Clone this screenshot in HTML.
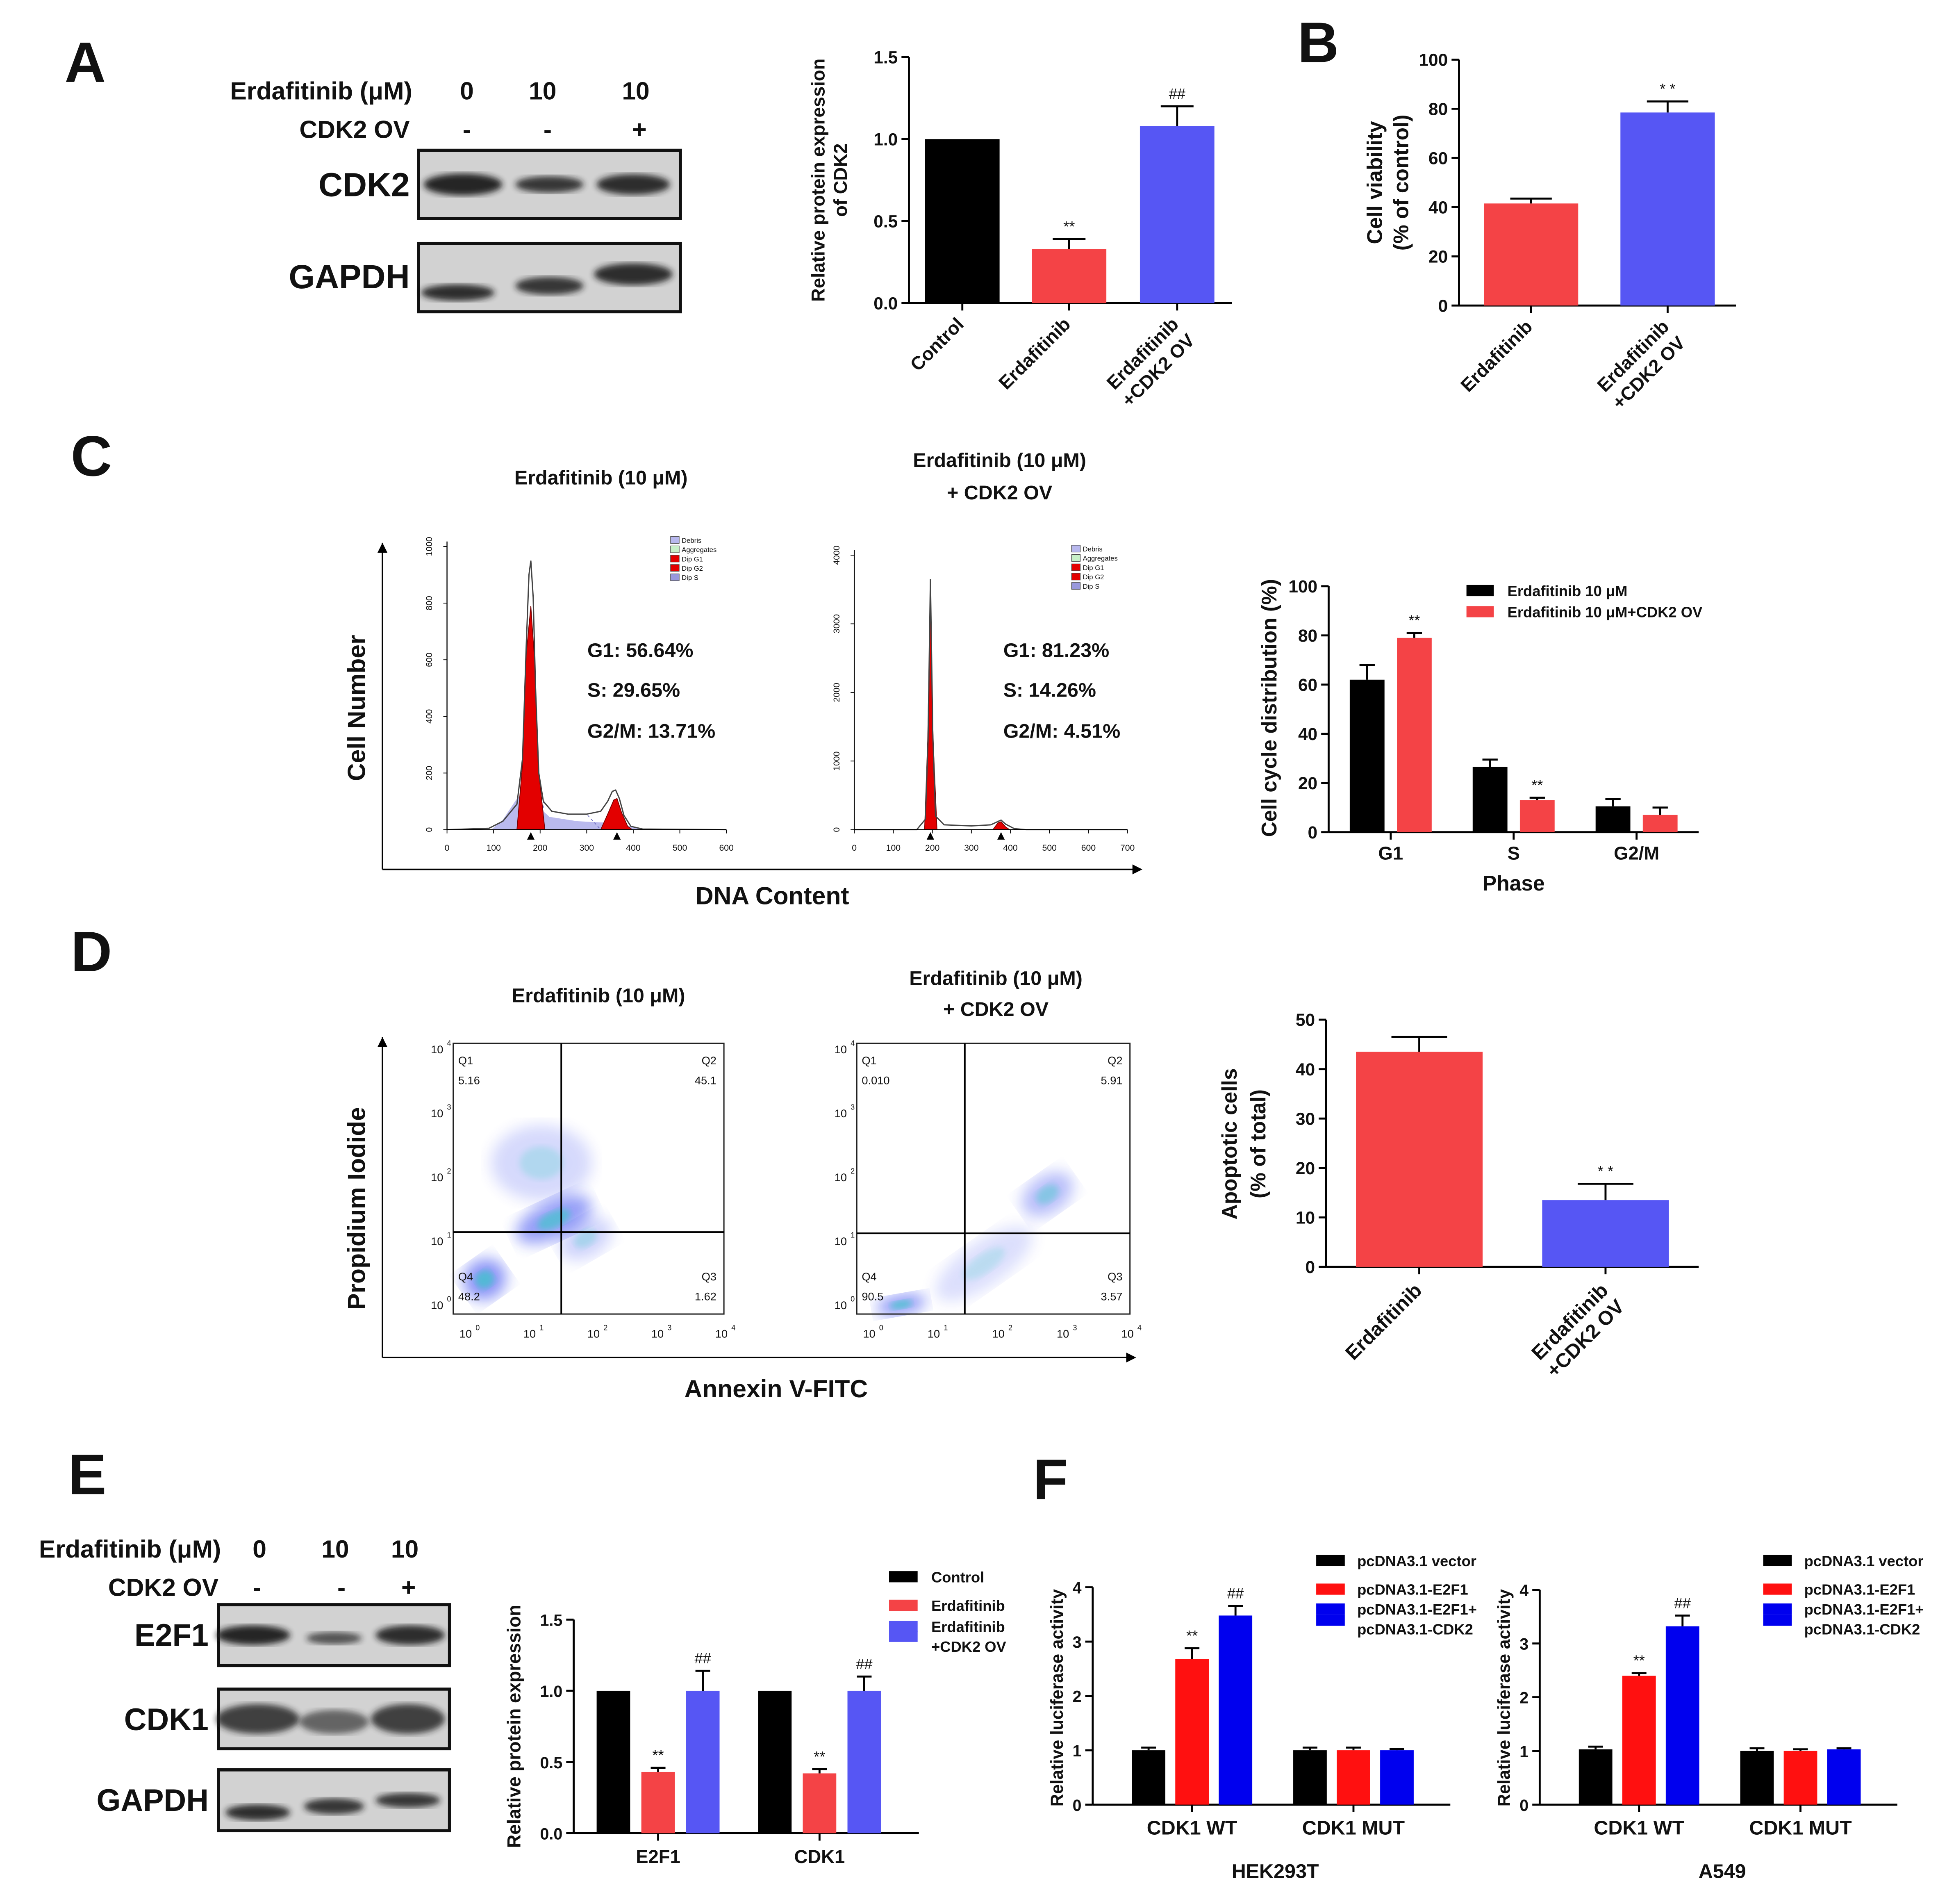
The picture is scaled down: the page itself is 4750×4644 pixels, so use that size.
<!DOCTYPE html>
<html><head><meta charset="utf-8"><style>
html,body{margin:0;padding:0;background:#fff}
svg{display:block}
text{font-family:"Liberation Sans",Arial,sans-serif;fill:#111}
.b{font-weight:bold}
</style></head><body>
<svg id="fig" xmlns="http://www.w3.org/2000/svg" width="4750" height="4644" viewBox="0 0 1568 1533">
<defs>
<filter id="blur2"><feGaussianBlur stdDeviation="2.5"/></filter>
<filter id="blur5"><feGaussianBlur stdDeviation="6"/></filter>
</defs>
<g id="root"></g>
</svg>
<script>
// ---------- DATA ----------
const aCats=["Control","Erdafitinib","Erdafitinib\n+CDK2 OV"];
const aVals=[1.0,0.33,1.08];
const aErr=[0,0.06,0.12];
const aMarks=["","**","##"];
const aTicks=[0,0.5,1.0,1.5];

const bCats=["Erdafitinib","Erdafitinib\n+CDK2 OV"];
const bVals=[41.5,78.5];
const bErr=[2,4.5];
const bTicks=[0,20,40,60,80,100];

const cPhases=["G1","S","G2/M"];
const cBlack=[62,26.5,10.5];
const cBlackErr=[6,3,3];
const cRed=[79,13,7];
const cRedErr=[2,1,3];
const cTicks=[0,20,40,60,80,100];

const dCats=["Erdafitinib","Erdafitinib\n+CDK2 OV"];
const dVals=[43.5,13.5];
const dErr=[3,3.3];
const dTicks=[0,10,20,30,40,50];

const eGroups=["E2F1","CDK1"];
const eCtrl=[1,1];
const eErd=[0.43,0.42];
const eErdErr=[0.03,0.03];
const eOv=[1.0,1.0];
const eOvErr=[0.14,0.1];
const eTicks=[0,0.5,1.0,1.5];

const fGroups=["CDK1 WT","CDK1 MUT"];
const fHekVec=[1.0,1.0];
const fHekE2f1=[2.68,1.0];
const fHekCdk2=[3.48,1.0];
const fHekErr=[[0.05,0.2,0.18],[0.05,0.05,0.02]];
const fA549Vec=[1.03,1.0];
const fA549E2f1=[2.4,1.0];
const fA549Cdk2=[3.32,1.03];
const fA549Err=[[0.05,0.05,0.2],[0.05,0.03,0.02]];
const fTicks=[0,1,2,3,4];

// histogram profiles [channel, count]
const h1Outline=[[0,0],[90,5],[120,30],[150,90],[162,250],[170,650],[176,900],[180,950],[185,820],[190,500],[197,200],[207,100],[225,65],[260,55],[300,55],[330,65],[345,100],[355,135],[362,140],[370,110],[380,50],[395,12],[420,2],[600,0]];
const h1G1=[[150,0],[162,230],[170,620],[180,790],[188,600],[196,220],[210,0]];
const h1G2=[[330,0],[345,55],[358,105],[365,110],[375,60],[388,12],[398,0]];
const h1Debris=[[95,0],[120,35],[150,110],[170,140],[190,90],[220,45],[280,30],[340,25],[400,10],[430,0]];
const h2Outline=[[0,0],[160,0],[182,150],[189,1300],[195,3650],[201,1400],[208,200],[230,70],[300,55],[350,70],[368,120],[376,140],[388,80],[410,15],[440,0],[700,0]];
const h2G1=[[180,0],[188,1300],[195,3500],[202,1300],[212,0]];
const h2G2=[[355,0],[368,100],[376,115],[388,40],[398,0]];

// flow scatter clusters: [log x, log y, spread x, spread y, rot, density]
const s1Clusters=[[0.5,0.55,0.35,0.32,-35,1],[1.6,1.5,0.65,0.3,-25,0.9],[1.4,2.4,0.8,0.6,0,0.35],[2.1,1.2,0.45,0.3,-30,0.4]];
const s2Clusters=[[0.7,0.15,0.4,0.15,-10,1],[2.0,0.8,0.9,0.35,-35,0.3],[3.0,1.9,0.45,0.3,-35,0.6]];

// ---------- HELPERS ----------
const NS="http://www.w3.org/2000/svg";
const root=document.getElementById('root');
function el(tag,attrs,parent,txt){const e=document.createElementNS(NS,tag);for(const k in attrs)e.setAttribute(k,attrs[k]);if(txt!==undefined)e.textContent=txt;(parent||root).appendChild(e);return e;}
function txt(x,y,s,size,opts,parent){opts=opts||{};const a={x:x,y:y,'font-size':size,'text-anchor':opts.anchor||'start'};if(opts.bold)a['font-weight']='bold';if(opts.rot!==undefined)a.transform=`rotate(${opts.rot} ${x} ${y})`;if(opts.fill)a.fill=opts.fill;const t=el('text',a,parent,s);return t;}
function line(x1,y1,x2,y2,w,parent,name){const l=el('line',{x1,y1,x2,y2,stroke:'#000','stroke-width':w||1.5},parent);return l;}
function yScale(y0,y1,max){return v=>y0-(y0-y1)*v/max;}
function yAxis(x,ys,ticks,fmt,g,size){line(x,ys(0),x,ys(ticks[ticks.length-1]),1.6,g,'y-axis');ticks.forEach(t=>{line(x-6,ys(t),x,ys(t),1.6,g,'y-tick');txt(x-9,ys(t)+5,fmt(t),size||14,{anchor:'end',bold:true,name:'y-tick-label'},g);});}
function bar(cx,w,v,err,ys,color,g,name,mark){const r=el('rect',{x:cx-w/2,y:ys(v),width:w,height:ys(0)-ys(v),fill:color},g);
 if(err>0){line(cx,ys(v),cx,ys(v+err),1.6,g,'error-bar');line(cx-w*0.22,ys(v+err),cx+w*0.22,ys(v+err),1.6,g,'error-cap');}
 if(mark){txt(cx,ys(v+err)-6,mark,12,{anchor:'middle',name:'significance-mark'},g);}}
function group(name){const g=el('g',{},root);return g;}
function rotLabel(x,y,s,size,g){const parts=s.split("\n");parts.forEach((p,i)=>{txt(x+i*13,y+i*13,p,size,{anchor:'end',bold:true,rot:-45,name:'x-tick-label'},g);});}

const RED="#f44346",BLUE="#5656f4",FRED="#ff1010",FBLUE="#0000ee";

// ---------- PANEL LETTERS ----------
[["A",52,66],["B",1045,50],["C",57,383],["D",57,782],["E",55,1203],["F",832,1207]].forEach(p=>txt(p[1],p[2],p[0],46,{bold:true,name:'panel-letter-'+p[0].toLowerCase()}));

// ---------- BLOTS ----------
function blot(g,x,y,w,h,bands,name){const r=el('rect',{x,y,width:w,height:h,fill:'#d2d2d2',stroke:'#111','stroke-width':2.5},g);
 bands.forEach(b=>{const e=el('ellipse',{cx:x+b[0]*w,cy:y+b[1]*h,rx:b[2]*w,ry:b[3]*h,fill:'#1a1a1a',opacity:b[4],filter:'url(#blur2)'},g);});}
let gA=group('panel-a-blot');
txt(332,80,"Erdafitinib (μM)",20,{anchor:'end',bold:true,name:'treatment-label'},gA);
["0","10","10"].forEach((s,i)=>txt([376,437,512][i],80,s,20,{anchor:'middle',bold:true,name:'dose-label'},gA));
txt(330,111,"CDK2 OV",20,{anchor:'end',bold:true,name:'ov-label'},gA);
["-","-","+"].forEach((s,i)=>txt([376,441,515][i],111,s,20,{anchor:'middle',bold:true,name:'ov-sign'},gA));
txt(330,158,"CDK2",27,{anchor:'end',bold:true,name:'cdk2-label'},gA);
txt(330,232,"GAPDH",27,{anchor:'end',bold:true,name:'gapdh-label'},gA);
blot(gA,337,121,211,55,[[0.17,0.5,0.15,0.16,0.95],[0.5,0.5,0.13,0.12,0.85],[0.82,0.5,0.14,0.15,0.9]],'cdk2-blot');
blot(gA,337,196,211,55,[[0.15,0.72,0.14,0.12,0.9],[0.5,0.62,0.13,0.13,0.85],[0.82,0.45,0.15,0.16,0.9]],'gapdh-blot');

let gE=group('panel-e-blot');
txt(178,1254,"Erdafitinib (μM)",20,{anchor:'end',bold:true,name:'treatment-label'},gE);
["0","10","10"].forEach((s,i)=>txt([209,270,326][i],1254,s,20,{anchor:'middle',bold:true,name:'dose-label'},gE));
txt(176,1285,"CDK2 OV",20,{anchor:'end',bold:true,name:'ov-label'},gE);
["-","-","+"].forEach((s,i)=>txt([207,275,329][i],1285,s,20,{anchor:'middle',bold:true,name:'ov-sign'},gE));
txt(168,1325,"E2F1",25,{anchor:'end',bold:true,name:'e2f1-label'},gE);
txt(168,1393,"CDK1",25,{anchor:'end',bold:true,name:'cdk1-label'},gE);
txt(168,1458,"GAPDH",25,{anchor:'end',bold:true,name:'gapdh-label'},gE);
blot(gE,176,1292,186,49,[[0.15,0.5,0.16,0.16,0.95],[0.5,0.55,0.12,0.1,0.7],[0.83,0.5,0.15,0.16,0.9]],'e2f1-blot');
blot(gE,176,1360,186,48,[[0.17,0.5,0.18,0.25,0.8],[0.5,0.55,0.15,0.2,0.6],[0.82,0.5,0.16,0.25,0.8]],'cdk1-blot');
blot(gE,176,1425,186,49,[[0.17,0.7,0.14,0.13,0.9],[0.5,0.6,0.13,0.13,0.85],[0.82,0.5,0.14,0.12,0.85]],'gapdh-blot');

// ---------- PANEL A CHART ----------
let gAc=group('panel-a-chart');
let ysA=yScale(244,46,1.5);
yAxis(732,ysA,aTicks,t=>t.toFixed(1),gAc);
line(732,244,992,244,1.6,gAc,'x-axis');
const aCenters=[775,861,948];
aVals.forEach((v,i)=>{bar(aCenters[i],60,v,aErr[i],ysA,["#000",RED,BLUE][i],gAc,'bar-'+i,aMarks[i]);line(aCenters[i],244,aCenters[i],250,1.6,gAc,'x-tick');rotLabel(aCenters[i]+2,262,aCats[i],15,gAc);});
txt(664,145,"Relative protein expression",15,{anchor:'middle',bold:true,rot:-90,name:'y-axis-title'},gAc);
txt(682,145,"of CDK2",15,{anchor:'middle',bold:true,rot:-90,name:'y-axis-title'},gAc);

// ---------- PANEL B ----------
let gB=group('panel-b-chart');
let ysB=yScale(246,48,100);
yAxis(1175,ysB,bTicks,t=>t,gB);
line(1175,246,1398,246,1.6,gB,'x-axis');
const bCenters=[1233,1343];
bVals.forEach((v,i)=>{bar(bCenters[i],76,v,bErr[i],ysB,[RED,BLUE][i],gB,'bar-'+i,i==1?"* *":"");line(bCenters[i],246,bCenters[i],252,1.6,gB,'x-tick');rotLabel(bCenters[i]+2,264,bCats[i],15,gB);});
txt(1113,147,"Cell viability",17,{anchor:'middle',bold:true,rot:-90,name:'y-axis-title'},gB);
txt(1134,147,"(% of control)",17,{anchor:'middle',bold:true,rot:-90,name:'y-axis-title'},gB);

// ---------- PANEL C HISTOGRAMS ----------
let gC=group('panel-c-histograms');
txt(484,390,"Erdafitinib (10 μM)",16,{anchor:'middle',bold:true,name:'histogram-title'},gC);
txt(805,376,"Erdafitinib (10 μM)",16,{anchor:'middle',bold:true,name:'histogram-title'},gC);
txt(805,402,"+ CDK2 OV",16,{anchor:'middle',bold:true,name:'histogram-title'},gC);
line(308,437,308,700,1.2,gC,'frame-y');line(308,700,915,700,1.2,gC,'frame-x');
el('path',{d:'M304,445 L308,437 L312,445Z',fill:'#000'},gC);el('path',{d:'M912,696 L920,700 L912,704Z',fill:'#000'},gC);
txt(294,570,"Cell Number",20,{anchor:'middle',bold:true,rot:-90,name:'y-axis-title'},gC);
txt(622,728,"DNA Content",20,{anchor:'middle',bold:true,name:'x-axis-title'},gC);
function hist(x0,x1,xmax,y0,y1,ymax,xt,yt,outline,g1,g2,deb,name){
 const g=group(name);const xs=c=>x0+(x1-x0)*c/xmax,ys=c=>y0-(y0-y1)*c/ymax;
 const pth=(pts)=>'M'+pts.map(p=>xs(p[0]).toFixed(1)+','+ys(p[1]).toFixed(1)).join(' L');
 if(deb){const d=el('path',{d:pth(deb)+'Z',fill:'#a9a9e8',opacity:0.8},g);
  const s=el('path',{d:pth(outline.filter(p=>p[0]>200&&p[0]<330).concat([[330,0],[205,0]]))+'Z',fill:'none',stroke:'#6b6bc0','stroke-width':0.6,'stroke-dasharray':'2 2'},g);}
 [g1,g2].forEach((pp,i)=>{const r=el('path',{d:pth(pp)+'Z',fill:'#e30000',stroke:'#700','stroke-width':0.6},g);});
 const o=el('path',{d:pth(outline),fill:'none',stroke:'#444','stroke-width':1},g);
 line(x0,y0,x0,y1-4,0.8,g,'hist-y-axis');line(x0,y0,x1,y0,0.8,g,'hist-x-axis');
 xt.forEach(t=>{line(xs(t),y0,xs(t),y0+3,0.6,g,'tick');txt(xs(t),y0+17,String(t),7,{anchor:'middle',name:'x-tick-label'},g);});
 yt.forEach(t=>{line(x0-3,ys(t),x0,ys(t),0.6,g,'tick');txt(x0-12,ys(t),String(t),7,{anchor:'middle',rot:-90,name:'y-tick-label'},g);});
 [g1,g2].forEach(pp=>{const c=pp.reduce((a,b)=>b[1]>a[1]?b:a)[0];el('path',{d:`M${xs(c)-3},${y0+8} L${xs(c)},${y0+2} L${xs(c)+3},${y0+8}Z`,fill:'#000'},g);});
 const lg=[["Debris","#b8b8ee"],["Aggregates","#c8f0c8"],["Dip G1","#e30000"],["Dip G2","#e30000"],["Dip S","#9999dd"]];
 lg.forEach((l,i)=>{el('rect',{x:x1-45,y:y1-8+i*7.5,width:7,height:5.5,fill:l[1],stroke:'#444','stroke-width':0.4},g);txt(x1-36,y1-3+i*7.5,l[0],5.5,{fill:'#2a2ad0',name:'legend-entry'},g);});
 return g;}
hist(360,585,600,668,440,1000,[0,100,200,300,400,500,600],[0,200,400,600,800,1000],h1Outline,h1G1,h1G2,h1Debris,'histogram-erdafitinib');
hist(688,908,700,668,447,4000,[0,100,200,300,400,500,600,700],[0,1000,2000,3000,4000],h2Outline,h2G1,h2G2,null,'histogram-erdafitinib-cdk2ov');
[["G1: 56.64%",523],["S: 29.65%",555],["G2/M: 13.71%",588]].forEach(s=>txt(473,s[1]+6,s[0],16,{bold:true,name:'phase-percent'},gC));
[["G1: 81.23%",523],["S: 14.26%",555],["G2/M: 4.51%",588]].forEach(s=>txt(808,s[1]+6,s[0],16,{bold:true,name:'phase-percent'},gC));

// ---------- PANEL C CHART ----------
let gCc=group('panel-c-chart');
let ysC=yScale(670,472,100);
yAxis(1070,ysC,cTicks,t=>t,gCc);
line(1070,670,1368,670,1.6,gCc,'x-axis');
const cCenters=[1120,1219,1318];
cPhases.forEach((p,i)=>{bar(cCenters[i]-19,28,cBlack[i],cBlackErr[i],ysC,"#000",gCc,'bar-black-'+p);bar(cCenters[i]+19,28,cRed[i],cRedErr[i],ysC,RED,gCc,'bar-red-'+p,i<2?"**":"");line(cCenters[i],670,cCenters[i],676,1.6,gCc,'x-tick');txt(cCenters[i],692,p,15,{anchor:'middle',bold:true,name:'x-tick-label'},gCc);});
txt(1219,717,"Phase",17,{anchor:'middle',bold:true,name:'x-axis-title'},gCc);
txt(1028,570,"Cell cycle distribution (%)",17,{anchor:'middle',bold:true,rot:-90,name:'y-axis-title'},gCc);
[["Erdafitinib 10 μM","#000",476],["Erdafitinib 10 μM+CDK2 OV",RED,493]].forEach(l=>{el('rect',{x:1181,y:l[2]-5,width:22,height:9,fill:l[1]},gCc);txt(1214,l[2]+4,l[0],12,{bold:true,name:'legend-entry'},gCc);});

// ---------- PANEL D SCATTER ----------
let gD=group('panel-d-scatter');
txt(482,807,"Erdafitinib (10 μM)",16,{anchor:'middle',bold:true,name:'scatter-title'},gD);
txt(802,793,"Erdafitinib (10 μM)",16,{anchor:'middle',bold:true,name:'scatter-title'},gD);
txt(802,818,"+ CDK2 OV",16,{anchor:'middle',bold:true,name:'scatter-title'},gD);
line(308,835,308,1093,1.2,gD,'frame-y');line(308,1093,910,1093,1.2,gD,'frame-x');
el('path',{d:'M304,843 L308,835 L312,843Z',fill:'#000'},gD);el('path',{d:'M907,1089 L915,1093 L907,1097Z',fill:'#000'},gD);
txt(294,973,"Propidium Iodide",20,{anchor:'middle',bold:true,rot:-90,name:'y-axis-title'},gD);
txt(625,1125,"Annexin V-FITC",20,{anchor:'middle',bold:true,name:'x-axis-title'},gD);
function scatter(x0,y0,w,h,qx,qy,clusters,q,name){
 const g=group(name);
 const xs=v=>x0+w*v/4.3,ys=v=>y0+h-h*v/4.3;
 clusters.forEach(c=>{const e=el('ellipse',{cx:xs(c[0]),cy:ys(c[1]),rx:w*c[2]/4.3,ry:h*c[3]/4.3,fill:'#2b3cf0',opacity:0.55*c[5],filter:'url(#blur5)',transform:`rotate(${c[4]} ${xs(c[0])} ${ys(c[1])})`},g);
  const e2=el('ellipse',{cx:xs(c[0]),cy:ys(c[1]),rx:w*c[2]/10,ry:h*c[3]/10,fill:'#2fd0c0',opacity:0.6*c[5],filter:'url(#blur2)',transform:`rotate(${c[4]} ${xs(c[0])} ${ys(c[1])})`},g);});
 const r=el('rect',{x:x0,y:y0,width:w,height:h,fill:'none',stroke:'#222','stroke-width':1},g);
 line(qx,y0,qx,y0+h,1.3,g,'quadrant-line');line(x0,qy,x0+w,qy,1.3,g,'quadrant-line');
 txt(x0+4,y0+17,"Q1",9,{name:'quadrant-label'},g);txt(x0+4,y0+33,q[0],9,{name:'quadrant-value'},g);
 txt(x0+w-6,y0+17,"Q2",9,{anchor:'end',name:'quadrant-label'},g);txt(x0+w-6,y0+33,q[1],9,{anchor:'end',name:'quadrant-value'},g);
 txt(x0+4,y0+h-27,"Q4",9,{name:'quadrant-label'},g);txt(x0+4,y0+h-11,q[3],9,{name:'quadrant-value'},g);
 txt(x0+w-6,y0+h-27,"Q3",9,{anchor:'end',name:'quadrant-label'},g);txt(x0+w-6,y0+h-11,q[2],9,{anchor:'end',name:'quadrant-value'},g);
 [0,1,2,3,4].forEach(k=>{const px=x0+10+k*(w-12)/4;txt(px,y0+h+19,"10",9,{anchor:'middle',name:'x-tick-label'},g);txt(px+8,y0+h+13,String(k),6,{name:'x-tick-exp'},g);
  const py=y0+h-4-k*(h-12)/4;txt(x0-13,py,"10",9,{anchor:'middle',name:'y-tick-label'},g);txt(x0-5,py-6,String(k),6,{name:'y-tick-exp'},g);});
}
scatter(365,840,218,218,452,992,s1Clusters,["5.16","45.1","1.62","48.2"],'scatter-erdafitinib');
scatter(690,840,220,218,777,993,s2Clusters,["0.010","5.91","3.57","90.5"],'scatter-erdafitinib-cdk2ov');

// ---------- PANEL D CHART ----------
let gDc=group('panel-d-chart');
let ysD=yScale(1020,821,50);
yAxis(1068,ysD,dTicks,t=>t,gDc);
line(1068,1020,1368,1020,1.6,gDc,'x-axis');
const dCenters=[1143,1293];
dVals.forEach((v,i)=>{bar(dCenters[i],102,v,dErr[i],ysD,[RED,BLUE][i],gDc,'bar-'+i,i==1?"* *":"");line(dCenters[i],1020,dCenters[i],1026,1.6,gDc,'x-tick');rotLabel(dCenters[i]+3,1040,dCats[i],16,gDc);});
txt(996,921,"Apoptotic cells",17,{anchor:'middle',bold:true,rot:-90,name:'y-axis-title'},gDc);
txt(1019,921,"(% of total)",17,{anchor:'middle',bold:true,rot:-90,name:'y-axis-title'},gDc);

// ---------- PANEL E CHART ----------
let gEc=group('panel-e-chart');
let ysE=yScale(1476,1304,1.5);
yAxis(462,ysE,eTicks,t=>t.toFixed(1),gEc,13);
line(462,1476,740,1476,1.6,gEc,'x-axis');
const eCenters=[530,660];
eGroups.forEach((gname,i)=>{const c=eCenters[i];bar(c-36,27,eCtrl[i],0,ysE,"#000",gEc,'bar-control-'+gname);bar(c,27,eErd[i],eErdErr[i],ysE,RED,gEc,'bar-erdafitinib-'+gname,"**");bar(c+36,27,eOv[i],eOvErr[i],ysE,BLUE,gEc,'bar-ov-'+gname,"##");line(c,1476,c,1482,1.6,gEc,'x-tick');txt(c,1500,gname,15,{anchor:'middle',bold:true,name:'x-tick-label'},gEc);});
txt(419,1390,"Relative protein expression",15,{anchor:'middle',bold:true,rot:-90,name:'y-axis-title'},gEc);
[["Control","#000",1270],["Erdafitinib",RED,1293],["Erdafitinib",BLUE,1310]].forEach(l=>{el('rect',{x:716,y:l[2]-5,width:23,height:9,fill:l[1]},gEc);txt(750,l[2]+4,l[0],12,{bold:true,name:'legend-entry'},gEc);});
el('rect',{x:716,y:1313,width:23,height:9,fill:BLUE},gEc);
txt(750,1330,"+CDK2 OV",12,{bold:true,name:'legend-entry'},gEc);

// ---------- PANEL F CHARTS ----------
function fChart(x0,x1,yTop,vec,e2,c2,err,title,name){
 const g=group(name);const ys=yScale(1453,yTop,4);
 yAxis(x0,ys,fTicks,t=>t,g,13);line(x0,1453,x1,1453,1.6,g,'x-axis');
 const centers=[x0+80,x0+210];
 fGroups.forEach((gn,i)=>{const c=centers[i];bar(c-35,27,vec[i],err[i][0],ys,"#000",g,'bar-vector-'+gn);bar(c,27,e2[i],err[i][1],ys,FRED,g,'bar-e2f1-'+gn,i==0?"**":"");bar(c+35,27,c2[i],err[i][2],ys,FBLUE,g,'bar-cdk2-'+gn,i==0?"##":"");line(c,1453,c,1459,1.6,g,'x-tick');txt(c,1477,gn,16,{anchor:'middle',bold:true,name:'x-tick-label'},g);});
 txt(x0+147,1512,title,16,{anchor:'middle',bold:true,name:'chart-title'},g);
 txt(x0-24,1367,"Relative luciferase activity",14,{anchor:'middle',bold:true,rot:-90,name:'y-axis-title'},g);
 const lx=x0+180;
 [["pcDNA3.1 vector","#000",1257],["pcDNA3.1-E2F1",FRED,1280],["pcDNA3.1-E2F1+",FBLUE,1296]].forEach(l=>{el('rect',{x:lx,y:l[2]-5,width:23,height:9,fill:l[1]},g);txt(lx+33,l[2]+4,l[0],12,{bold:true,name:'legend-entry'},g);});
 el('rect',{x:lx,y:1300,width:23,height:9,fill:FBLUE},g);
 txt(lx+33,1316,"pcDNA3.1-CDK2",12,{bold:true,name:'legend-entry'},g);
}
fChart(880,1168,1278,fHekVec,fHekE2f1,fHekCdk2,fHekErr,"HEK293T",'panel-f-hek293t-chart');
fChart(1240,1528,1280,fA549Vec,fA549E2f1,fA549Cdk2,fA549Err,"A549",'panel-f-a549-chart');
</script>
</body></html>
